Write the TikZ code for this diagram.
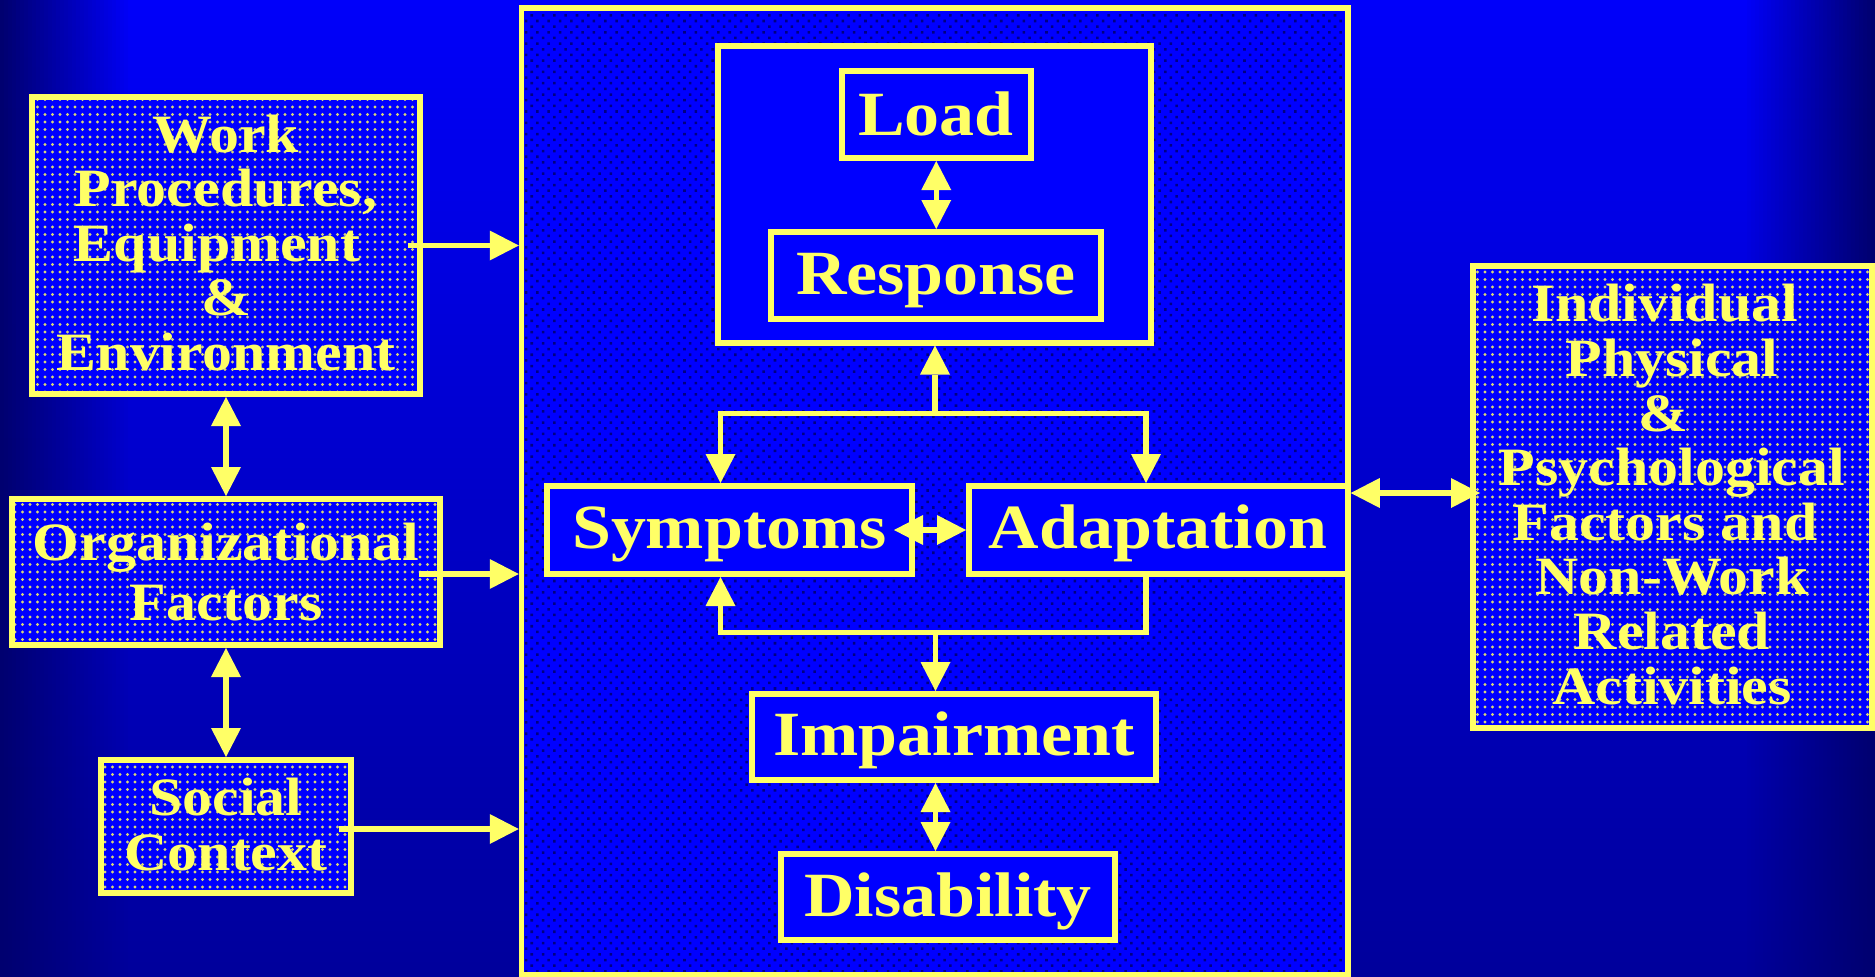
\documentclass[tikz,border=0pt]{standalone}
\usepackage{fontspec}
\newfontfamily\dfont{Liberation Serif}[FakeStretch=1.11]
\usetikzlibrary{arrows.meta,patterns.meta}
\definecolor{yel}{RGB}{255,255,102}
\definecolor{bgtop}{RGB}{0,0,250}
\definecolor{bgbot}{RGB}{0,0,155}
\definecolor{edgecol}{RGB}{0,0,112}
\definecolor{boxblue}{RGB}{0,0,255}
\definecolor{dotdark}{RGB}{0,0,130}
\definecolor{dotlight}{RGB}{215,215,120}
\newcommand\mlines[2]{\vbox{\baselineskip=#1pt\lineskiplimit=-1000pt\lineskip=0pt\halign{\hfil##\hfil\cr#2\crcr}}}
\tikzset{
  sidebox/.style={draw=yel, line width=6pt, inner sep=0pt, preaction={fill=boxblue},
    pattern={Dots[distance=7.5pt,radius=1.6pt]}, pattern color=dotlight},
  mainbox/.style={draw=yel, line width=5.5pt, inner sep=0pt, preaction={fill=boxblue},
    pattern={Dots[distance=8pt,angle=45,radius=1.8pt]}, pattern color=dotdark},
  cbox/.style={draw=yel, line width=6pt, inner sep=0pt, fill=boxblue},
  stxt/.style={text=yel, inner sep=0pt, anchor=base, font=\dfont\bfseries\fontsize{54}{60}\selectfont},
  ctxt/.style={text=yel, inner sep=0pt, anchor=base, font=\dfont\bfseries\fontsize{63}{70}\selectfont},
  tip/.tip={Triangle[length=29pt,width=30pt,line width=0pt]},
  arr/.style={draw=yel, line width=5.5pt, -tip},
  darr/.style={draw=yel, line width=5.5pt, tip-tip},
  link/.style={draw=yel, line width=5.5pt}
}
\begin{document}
\begin{tikzpicture}[x=1pt,y=-1pt]
\useasboundingbox (0,0) rectangle (1875,977);
% background
\shade[top color=bgtop, bottom color=bgbot] (0,0) rectangle (1875,977);
\foreach \i [evaluate=\i as \op using {1-\i/32}] in {0,...,31} {
  \fill[edgecol, fill opacity=\op] ({\i*4},0) rectangle ({\i*4+4},977);
  \fill[edgecol, fill opacity=\op] ({1875-\i*4},0) rectangle ({1875-\i*4-4},977);
}
% main container
\node[mainbox, minimum width=826.5pt, minimum height=967pt] (main) at (934.75,491.5) {};
% load / response group
\node[cbox, minimum width=433pt, minimum height=297pt] (lr) at (934.5,194) {};
\node[cbox, minimum width=188.5pt, minimum height=87pt] (load) at (936.25,114.5) {};
\node[cbox, minimum width=330pt, minimum height=87pt] (resp) at (936,275.5) {};
\node[cbox, minimum width=365pt, minimum height=88pt] (sym) at (729.5,530) {};
\node[cbox, minimum width=379pt, minimum height=88pt] (adapt) at (1158.5,530) {};
\node[cbox, minimum width=404pt, minimum height=86pt] (imp) at (954,737) {};
\node[cbox, minimum width=334pt, minimum height=86pt] (dis) at (948,897) {};
\node[ctxt] (loadT) at (936,135) {Load};
\node[ctxt] (respT) at (936,294) {Response};
\node[ctxt] (symT) at (729.5,548) {Symptoms};
\node[ctxt] (adaptT) at (1158,548) {Adaptation};
\node[ctxt] (impT) at (954,755) {Impairment};
\node[ctxt] (disT) at (948,916) {Disability};
% side boxes
\node[sidebox, minimum width=388pt, minimum height=297pt] (work) at (226,245.5) {};
\node[sidebox, minimum width=428pt, minimum height=146pt] (org) at (226,572) {};
\node[sidebox, minimum width=250pt, minimum height=133pt] (soc) at (226,826.5) {};
\node[sidebox, minimum width=399pt, minimum height=462pt] (indiv) at (1672.5,497) {};
\node[stxt] (workT) at (226,370) {\mlines{54.5}{Work\cr Procedures,\cr Equipment\kern18pt\cr \&\cr Environment}};
\node[stxt] (orgT) at (226,620) {\mlines{60}{Organizational\cr Factors}};
\node[stxt] (socT) at (226,870) {\mlines{55}{Social\cr Context}};
\node[stxt] (indivT) at (1672,704) {\mlines{54.6}{Individual\kern14pt\cr Physical\cr \&\kern18pt\cr Psychological\cr Factors and\kern14pt\cr Non-Work\cr Related\cr Activities}};
% connectors: left side
\draw[arr] ([xshift=-15pt]work.east) -- (work.east -| main.west);
\draw[arr] ([xshift=-24pt,yshift=-2pt]org.east) -- ([yshift=-2pt]org.east -| main.west);
\draw[arr] ([xshift=-15pt,yshift=-2.5pt]soc.east) -- ([yshift=-2.5pt]soc.east -| main.west);
\draw[darr] (work.south) -- (org.north);
\draw[darr] (org.south) -- (soc.north);
% right side
\coordinate (rtip) at ([xshift=10pt,yshift=4pt]indiv.west);
\draw[darr] (rtip -| main.east) -- (rtip);
% centre
\draw[darr] (load.south) -- (load.south |- resp.north);
\coordinate (hub) at (935,413.5);
\draw[arr] (hub) -- (hub |- lr.south);
\draw[arr] (hub) -| ([xshift=-9pt]sym.north);
\draw[arr] (hub) -| ([xshift=-12.5pt]adapt.north);
\draw[darr] ([xshift=-21pt]sym.east) -- (adapt.west);
\coordinate (hubb) at (935.5,632.5);
\draw[arr] (hubb) -| ([xshift=-9pt]sym.south);
\draw[link] (hubb) -| ([xshift=-12.5pt]adapt.south);
\draw[arr] (hubb) -- (hubb |- imp.north);
\draw[darr] (imp.south -| hubb) -- (dis.north -| hubb);
\end{tikzpicture}
\end{document}
